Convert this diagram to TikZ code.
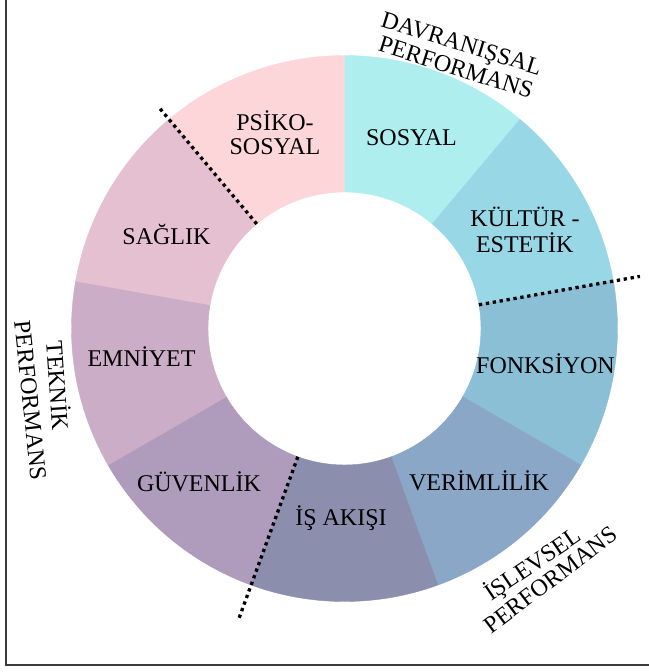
\documentclass[tikz,border=0pt]{standalone}
\usepackage{fontspec}
\setmainfont{Liberation Serif}
\definecolor{cSosyal}{HTML}{AFEEEF}
\definecolor{cKultur}{HTML}{97D7E6}
\definecolor{cFonk}{HTML}{8ABFD6}
\definecolor{cVerim}{HTML}{8BA7C8}
\definecolor{cIsak}{HTML}{8B8EAD}
\definecolor{cGuven}{HTML}{AF9BBB}
\definecolor{cEmniyet}{HTML}{CCADC7}
\definecolor{cSaglik}{HTML}{E5C0D0}
\definecolor{cPsiko}{HTML}{FDD6D9}
\definecolor{frameC}{HTML}{3A3A3A}
\begin{document}
\begin{tikzpicture}[x=1pt,y=1pt,
  lbl/.style={inner sep=0pt, anchor=base, font=\fontsize{24}{28}\selectfont, text=black},
  sepline/.style={line width=3.3pt, dash pattern=on 3.3pt off 3.7pt, black},
  framel/.style={line width=2.2pt, frameC}]
\useasboundingbox (-344.5,-343.5) rectangle (303.5,328.5);
\fill[white] (-344.5,-343.5) rectangle (303.5,328.5);
% frame
\coordinate (ftop) at (-338.2,329);
\coordinate (fcorner) at (-338.2,-336.2);
\coordinate (fright) at (304,-336.2);
\draw[framel] (ftop) -- (fcorner) -- (fright);
% ring segments
\def\ro{273pt}\def\ri{136.5pt}
\foreach \a/\b/\c in {90/50/cSosyal,50/10/cKultur,10/-30/cFonk,-30/-70/cVerim,-70/-110/cIsak,-110/-150/cGuven,-150/-190/cEmniyet,170/130/cSaglik,130/90/cPsiko}{
  \fill[\c, draw=\c, line width=0.4pt] (\a:\ro) arc[start angle=\a, end angle=\b, radius=\ro] -- (\b:\ri) arc[start angle=\b, end angle=\a, radius=\ri] -- cycle;
}
% separators
\coordinate (s1a) at (130:136.5pt); \coordinate (s1b) at (130:290pt);
\coordinate (s2a) at (10:136.5pt);  \coordinate (s2b) at (10:300pt);
\coordinate (s3a) at (-110:136.5pt); \coordinate (s3b) at (-110:311pt);
\draw[sepline] (s1a) -- (s1b);
\draw[sepline] (s2a) -- (s2b);
\draw[sepline] (s3a) -- (s3b);
% segment labels
\node[lbl] (psiko1) at (-69.5,197.8) {PSİKO-};
\node[lbl] (psiko2) at (-69.5,173.5) {SOSYAL};
\node[lbl] (sosyal) at (67,182.5) {SOSYAL};
\node[lbl] (kultur1) at (180.5,101.5) {KÜLTÜR -};
\node[lbl] (kultur2) at (180.2,76) {ESTETİK};
\node[lbl] (fonk) at (201,-44.5) {FONKSİYON};
\node[lbl] (verim) at (134.5,-162.3) {VERİMLİLİK};
\node[lbl] (isakisi) at (-3.5,-197) {İŞ AKIŞI};
\node[lbl] (guven) at (-145.5,-162.5) {GÜVENLİK};
\node[lbl] (emniyet) at (-203,-38) {EMNİYET};
\node[lbl] (saglik) at (-178,84.5) {SAĞLIK};
% group labels
\node[lbl, rotate=-17] (davr1) at (114.9,277.5) {DAVRANIŞSAL};
\node[lbl, rotate=-17.5] (davr2) at (109.2,253.6) {PERFORMANS};
\node[lbl, rotate=34] (isl1) at (192.6,-242.1) {İŞLEVSEL};
\node[lbl, rotate=37] (isl2) at (211,-257.5) {PERFORMANS};
\node[lbl, rotate=-86] (tek1) at (-295.2,-57.5) {TEKNİK};
\node[lbl, rotate=-84] (tek2) at (-322,-72.7) {PERFORMANS};
\end{tikzpicture}
\end{document}
